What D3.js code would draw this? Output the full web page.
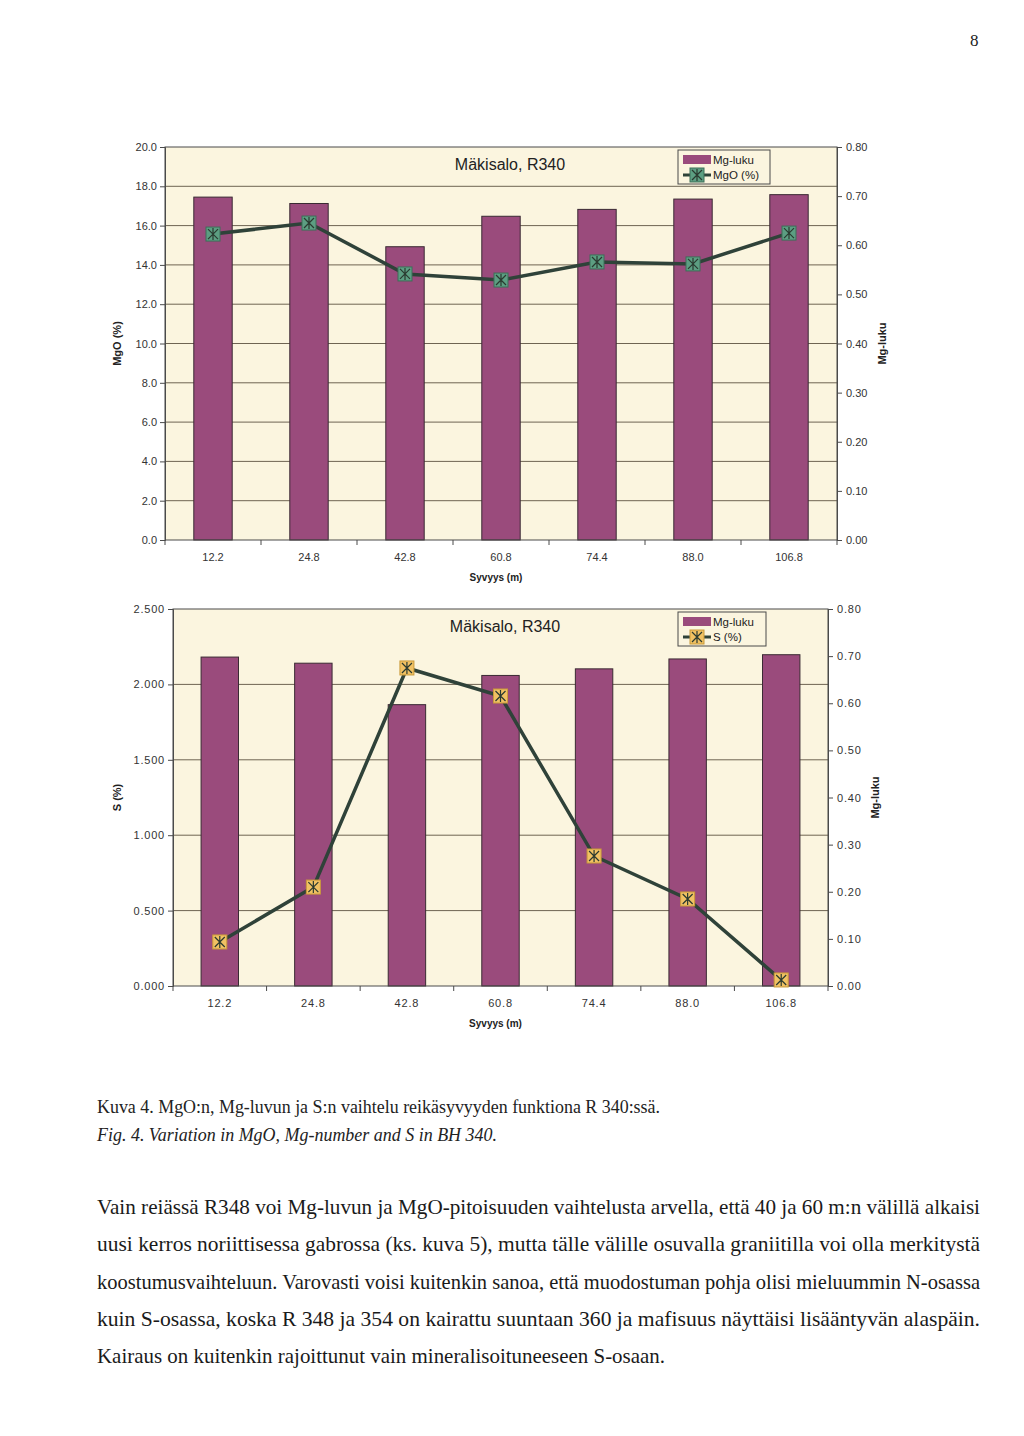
<!DOCTYPE html>
<html><head><meta charset="utf-8">
<script src="https://cdn.jsdelivr.net/npm/d3@7"></script>
<style>body{margin:0;background:#fff}svg{display:block}</style>
</head><body>
<script>
const depths = ["12.2","24.8","42.8","60.8","74.4","88.0","106.8"];
const mgLuku = [0.698,0.685,0.597,0.659,0.673,0.694,0.703];
const mgo = [15.57,16.13,13.54,13.23,14.15,14.05,15.62];
const sulfur = [0.292,0.656,2.109,1.923,0.862,0.577,0.040];
const mgoTicks = [0,2,4,6,8,10,12,14,16,18,20];
const sTicks = [0,0.5,1,1.5,2,2.5];
const lukuTicks = [0,0.1,0.2,0.3,0.4,0.5,0.6,0.7,0.8];
const paragraph = [
 "Vain reiässä R348 voi Mg-luvun ja MgO-pitoisuuden vaihtelusta arvella, että 40 ja 60 m:n välillä alkaisi",
 "uusi kerros noriittisessa gabrossa (ks. kuva 5), mutta tälle välille osuvalla graniitilla voi olla merkitystä",
 "koostumusvaihteluun. Varovasti voisi kuitenkin sanoa, että muodostuman pohja olisi mieluummin N-osassa",
 "kuin S-osassa, koska R 348 ja 354 on kairattu suuntaan 360 ja mafisuus näyttäisi lisääntyvän alaspäin.",
 "Kairaus on kuitenkin rajoittunut vain mineralisoituneeseen S-osaan."
];

const W=1024,H=1436;
const svg=d3.select("body").append("svg").attr("width",W).attr("height",H);
const SANS="'Liberation Sans', Arial, sans-serif";
const SERIF="'Liberation Serif', 'Times New Roman', serif";
const BAR="#9a4b7c", BARSTROKE="#3a2a33", LINE="#2f4239", GRID="#6e6452", AXIS="#4a4a4a", TXT="#333";

function marker(g,x,y,fill){
  const s=7;
  g.append("rect").attr("x",x-s).attr("y",y-s).attr("width",2*s).attr("height",2*s)
    .attr("fill",fill).attr("stroke",fill==="#f0c163"?"#c99a3a":"#3d6e58").attr("stroke-width",1);
  const p=d3.path();
  p.moveTo(x-5,y-5);p.lineTo(x+5,y+5);p.moveTo(x+5,y-5);p.lineTo(x-5,y+5);p.moveTo(x,y-6);p.lineTo(x,y+6);
  g.append("path").attr("d",p.toString()).attr("stroke","#2a3a30").attr("stroke-width",1.2).attr("fill","none");
}

function chart(cfg){
  const g=svg.append("g");
  const x=d3.scaleBand().domain(depths).range([cfg.left,cfg.right]).paddingInner(0.6).paddingOuter(0.3);
  const yL=d3.scaleLinear().domain(cfg.lDomain).range([cfg.bottom,cfg.top]);
  const yR=d3.scaleLinear().domain([0,0.8]).range([cfg.bottom,cfg.top]);
  g.append("rect").attr("x",cfg.left).attr("y",cfg.top).attr("width",cfg.right-cfg.left).attr("height",cfg.bottom-cfg.top)
    .attr("fill","#fbf5df");
  g.selectAll(".gl").data(cfg.lTicks.slice(1,-1)).enter().append("line")
    .attr("x1",cfg.left).attr("x2",cfg.right).attr("y1",d=>yL(d)).attr("y2",d=>yL(d))
    .attr("stroke",GRID).attr("stroke-width",1);
  g.selectAll(".bar").data(mgLuku).enter().append("rect")
    .attr("x",(d,i)=>x(depths[i])).attr("width",x.bandwidth())
    .attr("y",d=>yR(d)).attr("height",d=>cfg.bottom-yR(d))
    .attr("fill",BAR).attr("stroke",BARSTROKE).attr("stroke-width",1);
  g.append("rect").attr("x",cfg.left).attr("y",cfg.top).attr("width",cfg.right-cfg.left).attr("height",cfg.bottom-cfg.top)
    .attr("fill","none").attr("stroke",AXIS).attr("stroke-width",1);
  const la=g.append("g").attr("transform",`translate(${cfg.left},0)`)
    .call(d3.axisLeft(yL).tickValues(cfg.lTicks).tickFormat(d3.format(cfg.lFmt)).tickSize(5).tickPadding(3));
  la.select(".domain").attr("stroke",AXIS);
  la.selectAll("line").attr("stroke",AXIS);
  la.selectAll("text").attr("font-family",SANS).attr("font-size",11).attr("fill",TXT).attr("letter-spacing",cfg.ls);
  const ra=g.append("g").attr("transform",`translate(${cfg.right},0)`)
    .call(d3.axisRight(yR).tickValues(lukuTicks).tickFormat(d3.format(".2f")).tickSize(5).tickPadding(4));
  ra.select(".domain").attr("stroke",AXIS);
  ra.selectAll("line").attr("stroke",AXIS);
  ra.selectAll("text").attr("font-family",SANS).attr("font-size",11).attr("fill",TXT).attr("letter-spacing",cfg.ls);
  const step=x.step();
  const bounds=d3.range(depths.length+1).map(i=>cfg.left+i*step);
  g.selectAll(".xt").data(bounds).enter().append("line")
    .attr("x1",d=>d).attr("x2",d=>d).attr("y1",cfg.bottom).attr("y2",cfg.bottom+5).attr("stroke",AXIS);
  g.selectAll(".xl").data(depths).enter().append("text")
    .attr("x",d=>x(d)+x.bandwidth()/2).attr("y",cfg.bottom+21).attr("text-anchor","middle")
    .attr("font-family",SANS).attr("font-size",11).attr("fill",TXT).attr("letter-spacing",cfg.ls).text(d=>d);
  g.append("text").attr("x",(cfg.left+cfg.right)/2-5).attr("y",cfg.bottom+41).attr("text-anchor","middle")
    .attr("font-family",SANS).attr("font-size",10).attr("font-weight","bold").attr("fill","#222").text("Syvyys (m)");
  g.append("text").attr("transform",`translate(${cfg.lTitleX},${(cfg.top+cfg.bottom)/2}) rotate(-90)`)
    .attr("text-anchor","middle").attr("font-family",SANS).attr("font-size",11).attr("font-weight","bold").attr("fill","#222").text(cfg.lTitle);
  g.append("text").attr("transform",`translate(${cfg.rTitleX},${(cfg.top+cfg.bottom)/2}) rotate(-90)`)
    .attr("text-anchor","middle").attr("font-family",SANS).attr("font-size",11).attr("font-weight","bold").attr("fill","#222").text("Mg-luku");
  g.append("text").attr("x",cfg.titleX).attr("y",cfg.top+23).attr("text-anchor","middle")
    .attr("font-family",SANS).attr("font-size",16).attr("fill","#222").text("Mäkisalo, R340");
  const line=d3.line().x((d,i)=>x(depths[i])+x.bandwidth()/2).y(d=>yL(d));
  g.append("path").datum(cfg.series).attr("d",line).attr("fill","none").attr("stroke",LINE).attr("stroke-width",3.5);
  cfg.series.forEach((d,i)=>marker(g,x(depths[i])+x.bandwidth()/2,yL(d),cfg.mFill));
  const lg=g.append("g");
  lg.append("rect").attr("x",cfg.legX).attr("y",cfg.top+3).attr("width",cfg.legW).attr("height",34)
    .attr("fill","#fbf5df").attr("stroke",AXIS);
  lg.append("rect").attr("x",cfg.legX+5).attr("y",cfg.top+8).attr("width",28).attr("height",9).attr("fill",BAR);
  lg.append("text").attr("x",cfg.legX+35).attr("y",cfg.top+17).attr("font-family",SANS).attr("font-size",11.5).attr("fill","#222").text("Mg-luku");
  lg.append("line").attr("x1",cfg.legX+5).attr("x2",cfg.legX+33).attr("y1",cfg.top+28).attr("y2",cfg.top+28).attr("stroke",LINE).attr("stroke-width",3);
  marker(lg,cfg.legX+19,cfg.top+28,cfg.mFill);
  lg.append("text").attr("x",cfg.legX+35).attr("y",cfg.top+32).attr("font-family",SANS).attr("font-size",11.5).attr("fill","#222").text(cfg.legLabel);
}

chart({left:165,right:837,top:147,bottom:540,lDomain:[0,20],lTicks:mgoTicks,lFmt:".1f",series:mgo,
  mFill:"#5c9e82",lTitle:"MgO (%)",lTitleX:121,rTitleX:886,titleX:510,legX:678,legW:92,legLabel:"MgO (%)",ls:0});
chart({left:173,right:828,top:609,bottom:986,lDomain:[0,2.5],lTicks:sTicks,lFmt:".3f",series:sulfur,
  mFill:"#f0c163",lTitle:"S (%)",lTitleX:121,rTitleX:879,titleX:505,legX:678,legW:88,legLabel:"S (%)",ls:0.8});

svg.append("text").attr("x",970).attr("y",46).attr("font-family",SERIF).attr("font-size",17).attr("fill","#222").text("8");
svg.append("text").attr("x",97).attr("y",1113).attr("font-family",SERIF).attr("font-size",18).attr("fill","#222")
  .attr("textLength",563).attr("lengthAdjust","spacingAndGlyphs")
  .text("Kuva 4. MgO:n, Mg-luvun ja S:n vaihtelu reikäsyvyyden funktiona R 340:ssä.");
svg.append("text").attr("x",97).attr("y",1141).attr("font-family",SERIF).attr("font-size",18).attr("font-style","italic").attr("fill","#222")
  .attr("textLength",400).attr("lengthAdjust","spacingAndGlyphs")
  .text("Fig. 4. Variation in MgO, Mg-number and S in BH 340.");
paragraph.forEach((t,i)=>{
  const tx=svg.append("text").attr("x",97).attr("y",1214+i*37.3).attr("font-family",SERIF).attr("font-size",21).attr("fill","#1a1a1a").text(t);
  tx.attr("textLength",i<paragraph.length-1?883:568).attr("lengthAdjust","spacingAndGlyphs");
});
</script>
</body></html>
